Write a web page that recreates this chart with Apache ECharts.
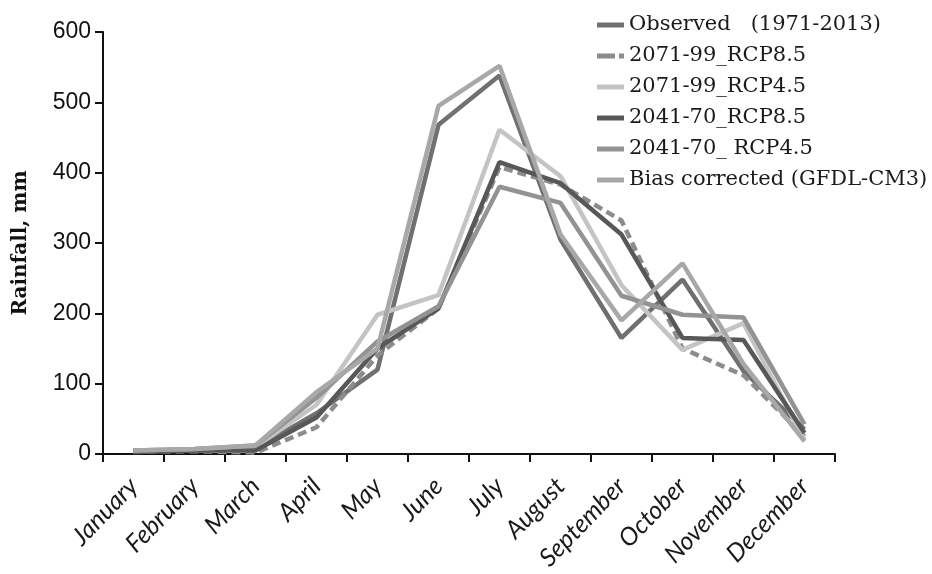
<!DOCTYPE html>
<html><head><meta charset="utf-8">
<script src="https://cdn.jsdelivr.net/npm/echarts@6/dist/echarts.min.js"></script>
<style>html,body{margin:0;padding:0;background:#fff}#c{width:932px;height:574px}</style>
</head><body><div id="c"></div>
<script>
const months = ['January','February','March','April','May','June','July','August','September','October','November','December'];
const observed = [5, 5, 8, 58, 120, 468, 538, 305, 165, 248, 118, 35];
const rcp85_2071 = [3, 4, 2, 38, 140, 207, 408, 383, 332, 150, 112, 25];
const rcp45_2071 = [4, 6, 10, 70, 198, 226, 461, 395, 240, 148, 186, 20];
const rcp85_2041 = [3, 5, 5, 52, 150, 207, 415, 385, 312, 165, 162, 30];
const rcp45_2041 = [5, 7, 12, 80, 160, 210, 380, 357, 225, 198, 194, 42];
const biasCorrected = [5, 7, 12, 88, 150, 495, 552, 312, 190, 271, 128, 18];
const yTicks = [0, 100, 200, 300, 400, 500, 600];

const names = ['Observed   (1971-2013)', '2071-99_RCP8.5', '2071-99_RCP4.5', '2041-70_RCP8.5', '2041-70_ RCP4.5', 'Bias corrected (GFDL-CM3)'];
const datasets = [observed, rcp85_2071, rcp45_2071, rcp85_2041, rcp45_2041, biasCorrected];
const colors = ['#707070', '#8c8c8c', '#c4c4c4', '#585858', '#939393', '#a8a8a8'];
const dashes = ['solid', [9, 5], 'solid', 'solid', 'solid', 'solid'];
const solidIcon = 'path://M0,0h27v5h-27z';
const dashIcon = 'path://M0,0h18v5h-18z M22,0h5v5h-5z';

const chart = echarts.init(document.getElementById('c'));
chart.setOption({
  animation: false,
  backgroundColor: '#fff',
  grid: { left: 103, right: 97, top: 32, bottom: 120 },
  legend: {
    orient: 'vertical', left: 592, top: 8, itemGap: 7, itemWidth: 27, itemHeight: 5,
    data: names.map((n, i) => ({ name: n, icon: i === 1 ? dashIcon : solidIcon, itemStyle: { color: colors[i] } })),
    textStyle: { fontFamily: 'DejaVu Serif', fontSize: 21, color: '#1a1a1a', lineHeight: 24 }
  },
  xAxis: {
    type: 'category', data: months, boundaryGap: true,
    axisLine: { lineStyle: { color: '#111', width: 2 } },
    axisTick: { show: true, interval: 0, length: 8, lineStyle: { color: '#111', width: 2 } },
    axisLabel: { interval: 0, rotate: 46, margin: 28, fontFamily: 'Lato', fontStyle: 'italic', fontSize: 25, color: '#1a1a1a' }
  },
  yAxis: {
    type: 'value', min: 0, max: 600, interval: 100,
    name: 'Rainfall, mm', nameLocation: 'middle', nameGap: 72,
    nameTextStyle: { fontFamily: 'DejaVu Serif', fontWeight: 'bold', fontSize: 20, color: '#111' },
    axisLine: { show: true, lineStyle: { color: '#111', width: 2 } },
    axisTick: { show: true, length: 8, lineStyle: { color: '#111', width: 2 } },
    splitLine: { show: false },
    axisLabel: { margin: 12, fontFamily: 'Liberation Sans', fontSize: 23, color: '#111',
      formatter: v => yTicks.includes(v) ? String(v) : '' }
  },
  series: datasets.map((d, i) => ({
    name: names[i], type: 'line', data: d, symbol: 'none',
    lineStyle: { color: colors[i], width: 4.5, type: dashes[i] },
    itemStyle: { color: colors[i] }
  }))
});
</script></body></html>
